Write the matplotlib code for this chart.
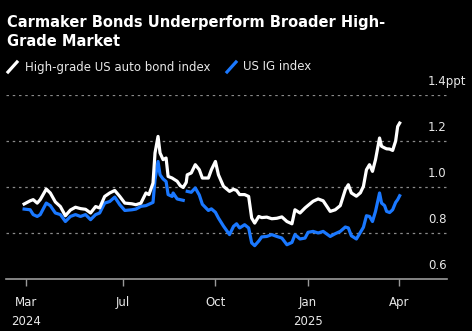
import matplotlib
matplotlib.use("Agg")
import matplotlib.pyplot as plt
from matplotlib.lines import Line2D
import numpy as np
import pandas as pd


# spread vs Treasuries, ppt
dates = [
    "2024-03-25", "2024-03-31", "2024-04-03", "2024-04-07", "2024-04-10",
    "2024-04-16", "2024-04-20", "2024-04-25", "2024-04-30", "2024-05-05",
    "2024-05-10", "2024-05-15", "2024-05-20", "2024-05-25", "2024-05-30",
    "2024-06-04", "2024-06-08", "2024-06-13", "2024-06-18", "2024-06-23",
    "2024-06-28", "2024-07-03", "2024-07-10", "2024-07-14", "2024-07-19",
    "2024-07-24", "2024-07-27", "2024-07-31", "2024-08-02", "2024-08-05",
    "2024-08-07", "2024-08-10", "2024-08-13", "2024-08-15", "2024-08-19",
    "2024-08-20", "2024-08-24", "2024-08-27", "2024-08-30", "2024-09-02",
    "2024-09-03", "2024-09-07", "2024-09-11", "2024-09-15", "2024-09-18",
    "2024-09-24", "2024-09-27", "2024-10-01", "2024-10-04", "2024-10-09",
    "2024-10-15", "2024-10-19", "2024-10-22", "2024-10-25", "2024-10-30",
    "2024-11-03", "2024-11-06", "2024-11-09", "2024-11-13", "2024-11-16",
    "2024-11-21", "2024-11-26", "2024-12-01", "2024-12-06", "2024-12-11",
    "2024-12-16", "2024-12-19", "2024-12-24", "2024-12-29", "2025-01-01",
    "2025-01-06", "2025-01-11", "2025-01-16", "2025-01-23", "2025-01-28",
    "2025-02-02", "2025-02-07", "2025-02-10", "2025-02-13", "2025-02-18",
    "2025-02-22", "2025-02-25", "2025-02-28", "2025-03-03", "2025-03-06",
    "2025-03-09", "2025-03-13", "2025-03-15", "2025-03-18", "2025-03-20",
    "2025-03-23", "2025-03-26", "2025-03-29", "2025-03-31", "2025-04-02",
]
auto_bonds = [
    0.926, 0.940, 0.945, 0.930, 0.945,
    0.991, 0.974, 0.935, 0.915, 0.875,
    0.900, 0.912, 0.906, 0.903, 0.887,
    0.915, 0.909, 0.959, 0.974, 0.985,
    0.959, 0.930, 0.927, 0.923, 0.930,
    0.974, 0.967, 1.017, 1.148, 1.220,
    1.148, 1.119, 1.126, 1.046, 1.039,
    1.036, 1.025, 1.006, 0.998, 1.020,
    1.053, 1.061, 1.097, 1.075, 1.039,
    1.039, 1.075, 1.111, 1.053, 1.003,
    0.981, 0.990, 0.985, 0.967, 0.967,
    0.959, 0.865, 0.843, 0.872, 0.867,
    0.869, 0.862, 0.864, 0.870, 0.850,
    0.840, 0.901, 0.887, 0.909, 0.920,
    0.938, 0.948, 0.940, 0.894, 0.901,
    0.919, 0.988, 1.010, 0.974, 0.960,
    0.975, 1.003, 1.075, 1.097, 1.068,
    1.119, 1.213, 1.177, 1.170, 1.166,
    1.165, 1.159, 1.200, 1.263, 1.278,
]
us_ig = [
    0.904, 0.901, 0.880, 0.872, 0.880,
    0.930, 0.919, 0.887, 0.880, 0.850,
    0.872, 0.880, 0.872, 0.880, 0.858,
    0.880, 0.887, 0.930, 0.937, 0.956,
    0.923, 0.898, 0.901, 0.904, 0.916,
    0.919, 0.925, 0.933, 1.032, 1.111,
    1.053, 1.035, 1.024, 0.967, 0.959,
    0.974, 0.948, 0.945, 0.942, np.nan,
    0.981, 0.977, 0.996, 0.965, 0.925,
    0.898, 0.905, 0.890, 0.865, 0.830,
    0.793, 0.829, 0.840, 0.822, 0.836,
    0.822, 0.757, 0.745, 0.765, 0.783,
    0.785, 0.793, 0.785, 0.778, 0.749,
    0.759, 0.793, 0.774, 0.778, 0.803,
    0.807, 0.800, 0.807, 0.785, 0.797,
    0.807, 0.826, 0.822, 0.788, 0.774,
    0.803, 0.825, 0.875, 0.872, 0.850,
    0.894, 0.974, 0.930, 0.919, 0.894,
    0.889, 0.901, 0.933, 0.945, 0.962,
]

tick_dates = ["2024-03-27", "2024-07-01", "2024-10-01", "2025-01-01", "2025-04-01"]
tick_labels = ["Mar\n2024", "Jul", "Oct", "Jan\n2025", "Apr"]
y_values = [0.6, 0.8, 1.0, 1.2, 1.4]
y_labels = ["0.6", "0.8", "1.0", "1.2", "1.4ppt"]

bg = "black"
fg = "#e8e8e8"
blue = "#1a78ff"

x = pd.to_datetime(dates)

fig = plt.figure(figsize=(4.72, 3.31), dpi=100, facecolor=bg)
ax = fig.add_axes([6 / 472, 52 / 331, 441 / 472, 184 / 331], facecolor=bg)

ax.plot(x, auto_bonds, color="white", lw=2.3, solid_joinstyle="round", zorder=3)
ax.plot(x, us_ig, color=blue, lw=2.3, solid_joinstyle="round", zorder=2)

ax.set_xlim(pd.Timestamp("2024-03-07"), pd.Timestamp("2025-05-19"))
ax.set_ylim(0.6, 1.4)

# gridlines + labels sitting above them at the right
for v, lab in zip(y_values, y_labels):
    if v > 0.6:
        ax.axhline(v, color="#8a8a8a", lw=0.9, ls=(0, (2, 3)), zorder=1)
    ax.text(0.957, v + 0.058, lab, transform=ax.get_yaxis_transform(),
            color=fg, fontsize=8.5, ha="left", va="center")
ax.set_yticks([])

for s in ["top", "right", "left"]:
    ax.spines[s].set_visible(False)
ax.spines["bottom"].set_color("#9a9a9a")
ax.spines["bottom"].set_linewidth(1.2)

ax.set_xticks(pd.to_datetime(tick_dates))
ax.set_xticklabels(tick_labels, fontsize=8.5, color=fg, linespacing=1.65)
ax.tick_params(axis="x", colors="#9a9a9a", length=5, width=1, pad=7,
               labelcolor=fg)
for t in ax.get_xticklabels():
    t.set_verticalalignment("top")

# title
fig.text(7 / 472, 1 - 15 / 331, "Carmaker Bonds Underperform Broader High-\nGrade Market",
         color="white", fontsize=10.5, fontweight="bold", va="top", ha="left",
         linespacing=1.3)

# legend with slanted swatches
fig.add_artist(Line2D([8 / 472, 17 / 472], [1 - 72 / 331, 1 - 62 / 331],
                      transform=fig.transFigure, color="white", lw=2.3))
fig.text(25 / 472, 1 - 67 / 331, "High-grade US auto bond index", color=fg,
         fontsize=8.5, va="center", ha="left")
fig.add_artist(Line2D([227 / 472, 236 / 472], [1 - 72 / 331, 1 - 62 / 331],
                      transform=fig.transFigure, color=blue, lw=2.3))
fig.text(243 / 472, 1 - 67 / 331, "US IG index", color=fg,
         fontsize=8.5, va="center", ha="left")

fig.savefig("out.png", dpi=100, facecolor=bg)
